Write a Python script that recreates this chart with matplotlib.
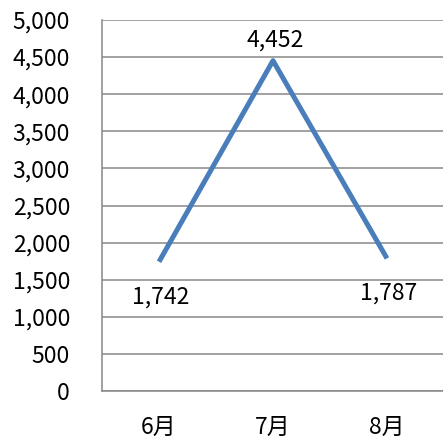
import matplotlib
matplotlib.use("Agg")
import matplotlib.pyplot as plt
from matplotlib.ticker import FuncFormatter, MultipleLocator

plt.rcParams["font.family"] = ["Noto Sans CJK JP", "DejaVu Sans"]

months = ["6月", "7月", "8月"]
values = [1742, 4452, 1787]
label_below = [True, False, True]

fig = plt.figure(figsize=(4.43, 4.42), dpi=100)
ax = fig.add_axes([102 / 443, 51 / 442, 342 / 443, 371 / 442])

x = range(len(months))
ax.plot(x, values, color="#4A7EBB", linewidth=3.6, solid_capstyle="butt", zorder=3)

for xi, v, below in zip(x, values, label_below):
    off = -35 if below else 21
    ax.annotate(f"{v:,}", (xi, v), xytext=(2, off), textcoords="offset pixels",
                ha="center", va="center", fontsize=16.5)

ax.set_xlim(-0.5, 2.5)
ax.set_ylim(0, 5000)
ax.yaxis.set_major_locator(MultipleLocator(500))
ax.yaxis.set_major_formatter(FuncFormatter(lambda v, _: f"{int(v):,}"))
ax.set_xticks(list(x))
ax.set_xticklabels(months)
ax.tick_params(axis="both", length=0, labelsize=16.5, colors="black")
ax.tick_params(axis="y", pad=23)
ax.tick_params(axis="x", pad=18)

ax.grid(axis="y", color="#878787", linewidth=1.1)
ax.set_axisbelow(True)
for side in ("top", "right"):
    ax.spines[side].set_visible(False)
for side in ("left", "bottom"):
    ax.spines[side].set_color("#878787")
    ax.spines[side].set_linewidth(1.1)

fig.savefig("out.png", dpi=100)
